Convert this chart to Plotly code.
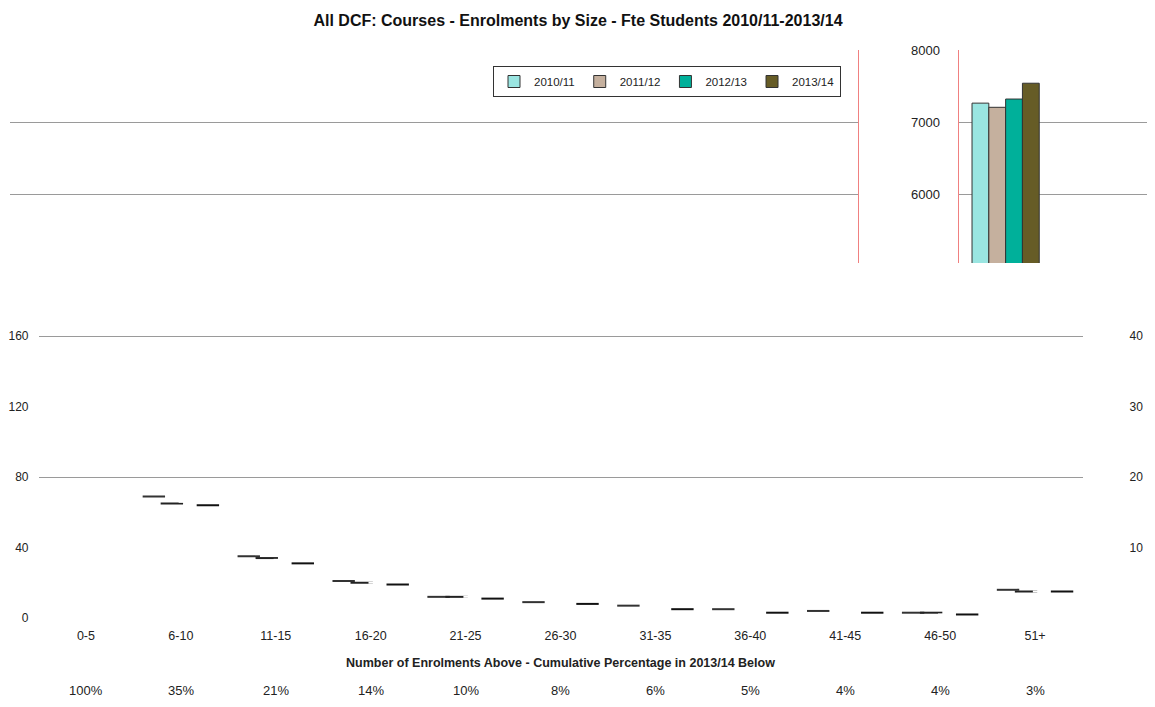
import plotly.graph_objects as go

# page is photographed at 1155x707; the html body adds an 8px margin
OFF = 8
W, H = 1155 - 2 * OFF, 707 - 2 * OFF

# ---------------- data ----------------
categories = ["0-5", "6-10", "11-15", "16-20", "21-25", "26-30",
              "31-35", "36-40", "41-45", "46-50", "51+"]
cum_pct = ["100%", "35%", "21%", "14%", "10%", "8%", "6%", "5%", "4%", "4%", "3%"]
years = ["2010/11", "2011/12", "2012/13", "2013/14"]

# number of courses in each enrolment band
s2010_11 = [290, 69, 35, 21, 12, 9, 7, 5, 4, 3, 16]
s2011_12 = [285, 65, 34, 20, 12, None, None, None, None, 3, 15]
s2012_13 = [290, 66, 33, 20, 12, 9, 6, 4, 4, 2, 15]
s2013_14 = [299, 64, 31, 19, 11, 8, 5, 3, 3, 2, 15]

# inset: totals per year
totals = [7265, 7207, 7322, 7542]
total_cat = ["Total"]

left_ticks = [0, 40, 80, 120, 160]
left_grid = [80, 160]
right_ticks = [10, 20, 30, 40]
inset_ticks = [5000, 6000, 7000, 8000]

title_text = "All DCF: Courses - Enrolments by Size - Fte Students 2010/11-2013/14"
x_title = "Number of Enrolments Above - Cumulative Percentage in 2013/14 Below"

# ---------------- styles ----------------
bar_colors = ["#9AE5E1", "#C5B09E", "#00B09A", "#665C26"]
dash_colors = ["#333333", "#222222", "#FFFFFF", "#111111"]
FONT = "Liberation Sans"
GRID = "#9a9a9a"
RED = "#f08080"


def px(p):
    return (p - OFF) / W


def py(p):
    return 1 - (p - OFF) / H


fig = go.Figure()

# inset totals (also provide the legend)
for name, val, col in zip(years, totals, bar_colors):
    fig.add_trace(go.Bar(
        x=total_cat, y=[val], name=name, xaxis="x2", yaxis="y3",
        marker=dict(color=col, line=dict(color="#333333", width=1)),
        showlegend=True,
    ))

# main chart: only the tops of the bars remain visible
for name, vals, col in zip(years, [s2010_11, s2011_12, s2012_13, s2013_14], dash_colors):
    fig.add_trace(go.Scatter(
        x=categories, y=vals, name=name, mode="markers",
        xaxis="x", yaxis="y", showlegend=False,
        marker=dict(symbol="line-ew", size=16, color=col,
                    line=dict(color=col, width=2)),
        hoverinfo="x+y",
    ))

# secondary (right) axis holder
fig.add_trace(go.Bar(x=[], y=[], xaxis="x", yaxis="y2", showlegend=False))
# empty top-left panel
fig.add_trace(go.Scatter(x=[], y=[], xaxis="x3", yaxis="y4", showlegend=False))

main_top = 279.6
fig.update_layout(
    width=W, height=H,
    margin=dict(l=0, r=0, t=0, b=0),
    paper_bgcolor="white", plot_bgcolor="white",
    font=dict(family=FONT, size=12, color="#222222"),
    scattermode="group", scattergap=0.241,
    barmode="group", bargap=0.287, bargroupgap=0,
    title=dict(text="<b>" + title_text + "</b>", x=px(578), xanchor="center",
               y=py(20), yanchor="middle", font=dict(size=16, color="#111111")),
    xaxis=dict(domain=[px(38.5), px(1082.5)], anchor="y", type="category",
               showgrid=False, showline=False, zeroline=False, ticks="",
               ticklabelstandoff=8, automargin=False,
               tickfont=dict(size=12.5),
               title=dict(text="<b>" + x_title + "</b>", standoff=16,
                          font=dict(size=12.5))),
    yaxis=dict(domain=[py(618), py(main_top)], anchor="x",
               range=[0, 192], tickvals=left_ticks, showgrid=False,
               zeroline=False, showline=False, ticklabelstandoff=9,
               automargin=False, tickfont=dict(size=12),
               minor=dict(tickmode="array", tickvals=left_grid, showgrid=True,
                          gridcolor=GRID, gridwidth=1)),
    yaxis2=dict(overlaying="y", anchor="x", side="right", range=[0, 48],
                tickvals=right_ticks, showgrid=False, zeroline=False,
                showline=False, ticklabelstandoff=46, automargin=False,
                tickfont=dict(size=12)),
    xaxis2=dict(domain=[px(958.5), 1.0], anchor="y3", type="category",
                range=[-0.5, 1.5], showticklabels=False, showgrid=False,
                zeroline=False, showline=False, ticks=""),
    yaxis3=dict(domain=[py(263), py(50)], anchor="x2", range=[5042, 8004],
                tickvals=inset_ticks, showgrid=True, gridcolor=GRID,
                zeroline=False, showline=True, linecolor=RED, linewidth=1,
                ticklabelstandoff=15, automargin=False, tickfont=dict(size=13)),
    xaxis3=dict(domain=[px(10), px(858)], anchor="y4", range=[0, 1],
                visible=False),
    yaxis4=dict(domain=[py(263), py(50)], anchor="x3", range=[5042, 8004],
                tickvals=inset_ticks, showgrid=True, gridcolor=GRID,
                showticklabels=False, zeroline=False, side="right",
                showline=True, linecolor=RED, linewidth=1, ticks=""),
    legend=dict(orientation="h", x=px(493), xanchor="left", y=py(66),
                yanchor="top", bordercolor="#333333", borderwidth=1,
                bgcolor="white", font=dict(size=11.5), traceorder="normal",
                itemwidth=30),
)

# cumulative percentage row under the axis title
for cat, pct in zip(categories, cum_pct):
    fig.add_annotation(x=cat, y=py(690), xref="x", yref="paper",
                       text=pct, showarrow=False, font=dict(size=13),
                       xanchor="center", yanchor="middle")

fig.write_html("out.html")
